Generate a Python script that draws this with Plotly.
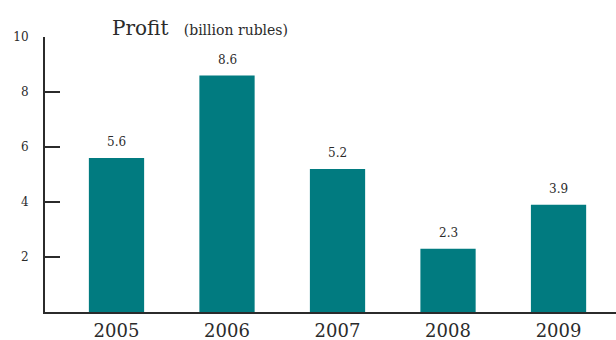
import plotly.graph_objects as go

years = ["2005", "2006", "2007", "2008", "2009"]
profit = [5.6, 8.6, 5.2, 2.3, 3.9]
y_ticks = [0, 2, 4, 6, 8, 10]
y_tick_text = ["", "2", "4", "6", "8", "10"]

teal = "#017b80"
ink = "#2b2b2b"
serif = "DejaVu Serif, Liberation Serif, serif"

fig = go.Figure()
fig.add_trace(go.Bar(
    x=years, y=profit, width=0.5,
    marker=dict(color=teal, line=dict(width=0)),
    hoverinfo="skip",
))

# value labels above each bar (category index used for x position)
for i, v in enumerate(profit):
    fig.add_annotation(
        x=i, y=v, xref="x", yref="y", text=f"{v:.1f}", showarrow=False,
        yanchor="bottom", yshift=7,
        font=dict(family=serif, size=12, color=ink),
    )

fig.add_annotation(
    xref="paper", yref="paper", x=0.114, y=1.0, xanchor="left", yanchor="bottom",
    yshift=-5,
    text="<span style='font-size:20px'>Profit</span>&nbsp;&nbsp;&nbsp;&nbsp;"
         "<span style='font-size:14px'>(billion rubles)</span>",
    showarrow=False, font=dict(family=serif, color=ink),
)

fig.update_layout(
    width=616, height=340,
    margin=dict(l=45, r=0, t=37, b=28, autoexpand=False),
    plot_bgcolor="white", paper_bgcolor="white",
    showlegend=False,
    xaxis=dict(
        type="category",
        range=[-0.647, 4.52], showgrid=False, zeroline=False,
        showline=True, linecolor=ink, linewidth=2,
        ticks="", tickfont=dict(family=serif, size=18, color=ink),
        ticklabelstandoff=1, automargin=False,
    ),
    yaxis=dict(
        range=[0, 10], showgrid=False, zeroline=False,
        showline=True, linecolor=ink, linewidth=2,
        tickvals=y_ticks, ticktext=y_tick_text,
        ticks="inside", ticklen=15, tickwidth=2, tickcolor=ink,
        tickfont=dict(family=serif, size=12, color=ink),
        ticklabelstandoff=12, automargin=False,
    ),
)

fig.write_html("out.html")
